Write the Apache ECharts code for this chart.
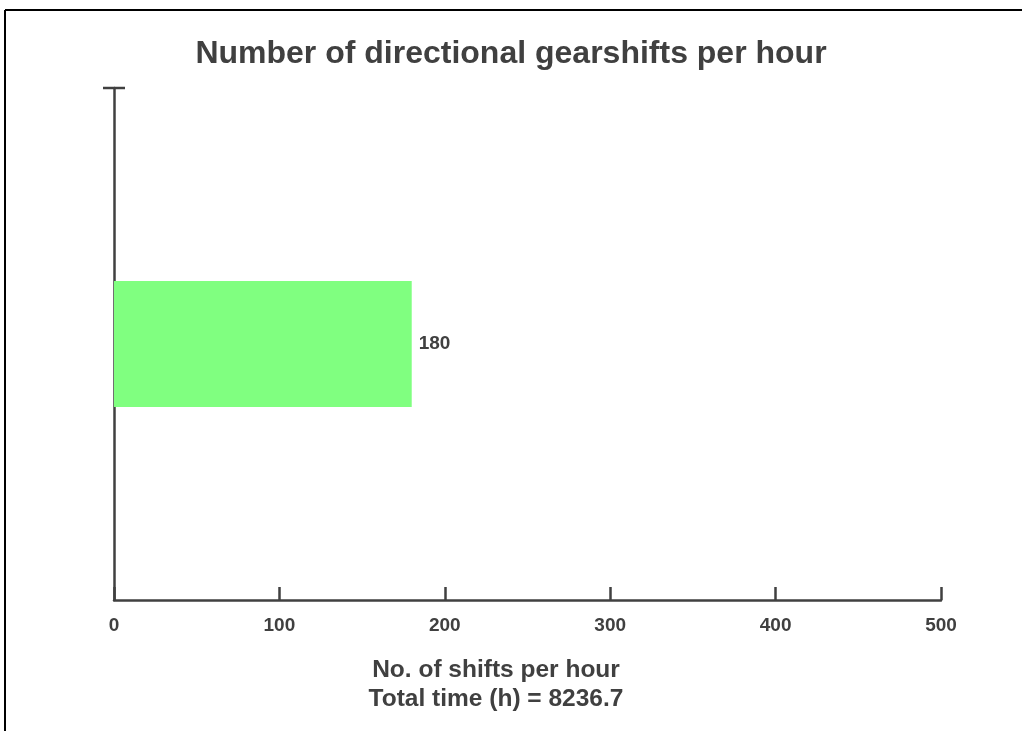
<!DOCTYPE html>
<html>
<head>
<meta charset="utf-8">
<script src="https://cdn.jsdelivr.net/npm/echarts@6/dist/echarts.min.js"></script>
<style>html,body{margin:0;padding:0;background:#fff;}#c{width:1022px;height:731px;}</style>
</head>
<body>
<div id="c"></div>
<script>
const categories = [''];
const shiftsPerHour = [180];
const xTicks = [0, 100, 200, 300, 400, 500];
const titleText = 'Number of directional gearshifts per hour';
const axisTitle = 'No. of shifts per hour\nTotal time (h) = 8236.7';

const FONT = '"Liberation Sans", Arial, Helvetica, sans-serif';
const TXT = '#404040';
const chart = echarts.init(document.getElementById('c'), null, {renderer: 'canvas'});
chart.setOption({
  backgroundColor: '#ffffff',
  animation: false,
  title: [{
    text: titleText, left: 'center', top: 33,
    textStyle: {fontFamily: FONT, fontSize: 32, fontWeight: 'bold', color: TXT}
  }, {
    text: axisTitle, left: 491, textAlign: 'center', top: 651,
    textStyle: {fontFamily: FONT, fontSize: 24.5, fontWeight: 'bold', color: TXT, lineHeight: 29}
  }],
  graphic: [
    {type: 'line', shape: {x1: 5, y1: 10, x2: 1022, y2: 10}, style: {stroke: '#000', lineWidth: 2}},
    {type: 'line', shape: {x1: 5, y1: 10, x2: 5, y2: 731}, style: {stroke: '#000', lineWidth: 2}}
  ],
  grid: {left: 114, right: 81, top: 88, bottom: 131, containLabel: false},
  xAxis: {
    type: 'value', min: xTicks[0], max: xTicks[xTicks.length - 1], interval: 100,
    axisLine: {show: true, lineStyle: {color: TXT, width: 2.5}},
    axisTick: {show: true, inside: true, length: 13, lineStyle: {color: TXT, width: 2.5}},
    axisLabel: {fontFamily: FONT, fontSize: 19, fontWeight: 'bold', color: TXT, margin: 16},
    splitLine: {show: false}
  },
  yAxis: {
    type: 'category', data: categories,
    axisLine: {show: true, symbol: ['none', 'rect'], symbolSize: [22, 2.5], lineStyle: {color: TXT, width: 2.5}},
    axisTick: {show: false},
    axisLabel: {show: false},
    splitLine: {show: false}
  },
  series: [{
    type: 'bar', data: shiftsPerHour, barWidth: '24.6%',
    itemStyle: {color: '#80ff80'},
    label: {show: true, position: 'right', distance: 7, fontFamily: FONT, fontSize: 19, fontWeight: 'bold', color: TXT, padding: [4, 0, 0, 0]}
  }]
});
</script>
</body>
</html>
